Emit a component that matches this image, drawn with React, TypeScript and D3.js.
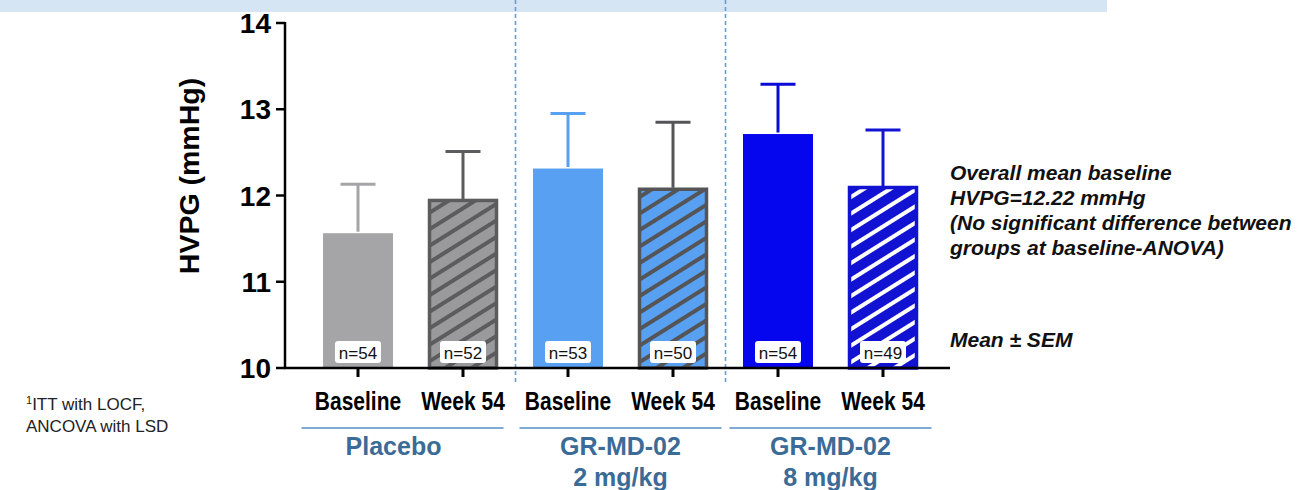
import React, { useEffect, useRef } from 'react';
import * as d3 from 'd3';

// bar values (HVPG, mmHg)
const categories = ['Baseline', 'Week 54', 'Baseline', 'Week 54', 'Baseline', 'Week 54'];
const means = [11.58, 11.96, 12.33, 12.09, 12.73, 12.11];
const sems = [0.55, 0.55, 0.62, 0.76, 0.56, 0.65];
const nValues = [54, 52, 53, 50, 54, 49];
const groupNames = [['Placebo'], ['GR-MD-02', '2 mg/kg'], ['GR-MD-02', '8 mg/kg']];
const yTicks = [10, 11, 12, 13, 14];
const notes = [
  'Overall mean baseline',
  'HVPG=12.22 mmHg',
  '(No significant difference between',
  'groups at baseline-ANOVA)',
];
const footnote = ['ITT with LOCF,', 'ANCOVA with LSD'];

// fill, stripe, outline per bar
const barStyles = [
  { fill: '#a5a5a7', stripe: null, stroke: null, err: '#a5a5a7' },
  { fill: '#9a9a9c', stripe: '#5c5c5e', stroke: '#5c5c5e', err: '#5c5c5e' },
  { fill: '#58a0f2', stripe: null, stroke: null, err: '#58a0f2' },
  { fill: '#58a0f2', stripe: '#555557', stroke: '#555557', err: '#555557' },
  { fill: '#0505ee', stripe: null, stroke: null, err: '#0a0ad8' },
  { fill: '#1212d2', stripe: '#ffffff', stroke: '#1212d2', err: '#1212d2' },
];

const App = () => {
  const ref = useRef<SVGSVGElement | null>(null);

  useEffect(() => {
    const svg = d3.select(ref.current);
    svg.selectAll('*').remove();
    const width = 1301;
    const height = 490;
    svg.attr('width', width).attr('height', height);

    const x = d3.scaleBand<number>()
      .domain(d3.range(categories.length))
      .range([305.5, 935.5])
      .paddingInner(1 / 3)
      .paddingOuter(1 / 6);
    const y = d3.scaleLinear().domain([10, 14]).range([368, 23]);
    const bw = x.bandwidth();
    const gap = (x.step() - bw) / 2;
    const axisX = 285;
    const font = 'Liberation Sans, Arial, sans-serif';

    // top banner
    svg.append('rect').attr('x', 0).attr('y', 0).attr('width', 1107).attr('height', 12)
      .attr('fill', '#d5e5f3');

    // patterns
    const defs = svg.append('defs');
    barStyles.forEach((s, i) => {
      if (!s.stripe) return;
      const p = defs.append('pattern')
        .attr('id', `hatch${i}`)
        .attr('patternUnits', 'userSpaceOnUse')
        .attr('width', 14).attr('height', 14)
        .attr('patternTransform', 'rotate(-32)');
      p.append('rect').attr('width', 14).attr('height', 14).attr('fill', s.fill);
      p.append('rect').attr('y', 0).attr('width', 14).attr('height', 4).attr('fill', s.stripe);
    });

    // group separators
    [2, 4].forEach(i => {
      const sx = x(i)! - gap;
      svg.append('line')
        .attr('x1', sx).attr('x2', sx).attr('y1', 0).attr('y2', 384)
        .attr('stroke', '#6a9ccc').attr('stroke-width', 1.6)
        .attr('stroke-dasharray', '4,3');
    });

    const g = svg.append('g');

    // error bars (upper only)
    means.forEach((m, i) => {
      const cx = x(i)! + bw / 2;
      const s = barStyles[i];
      g.append('line')
        .attr('x1', cx).attr('x2', cx).attr('y1', y(m)).attr('y2', y(m + sems[i]))
        .attr('stroke', s.err).attr('stroke-width', 3);
      g.append('line')
        .attr('x1', cx - 17.5).attr('x2', cx + 17.5).attr('y1', y(m + sems[i])).attr('y2', y(m + sems[i]))
        .attr('stroke', s.err).attr('stroke-width', 3);
    });

    // bars
    g.selectAll('.bar')
      .data(means)
      .enter().append('rect')
      .attr('class', 'bar')
      .attr('x', (d, i) => x(i)! + (barStyles[i].stroke ? 1.5 : 0))
      .attr('y', d => y(d) + 1.5)
      .attr('width', (d, i) => bw - (barStyles[i].stroke ? 3 : 0))
      .attr('height', d => y(10) - y(d) - 1.5)
      .attr('fill', (d, i) => (barStyles[i].stripe ? `url(#hatch${i})` : barStyles[i].fill))
      .attr('stroke', (d, i) => barStyles[i].stroke || 'none')
      .attr('stroke-width', 3.5);

    // n labels
    nValues.forEach((n, i) => {
      const cx = x(i)! + bw / 2;
      g.append('rect')
        .attr('x', cx - 23).attr('y', 341).attr('width', 46).attr('height', 22)
        .attr('rx', 3).attr('fill', '#ffffff');
      g.append('text')
        .attr('x', cx).attr('y', 358.5)
        .attr('text-anchor', 'middle')
        .attr('font-family', font).attr('font-size', 17).attr('fill', '#111')
        .text(`n=${n}`);
    });

    // y axis
    g.append('line').attr('x1', axisX).attr('x2', axisX).attr('y1', y(14) - 1).attr('y2', y(10))
      .attr('stroke', '#000').attr('stroke-width', 2.5);
    yTicks.forEach(t => {
      g.append('line').attr('x1', axisX - 9).attr('x2', axisX).attr('y1', y(t)).attr('y2', y(t))
        .attr('stroke', '#000').attr('stroke-width', 2.5);
      g.append('text')
        .attr('x', axisX - 14).attr('y', y(t) + 10)
        .attr('text-anchor', 'end')
        .attr('font-family', font).attr('font-weight', 'bold').attr('font-size', 28)
        .attr('fill', '#000')
        .text(t);
    });
    g.append('text')
      .attr('transform', `translate(199,176) rotate(-90)`)
      .attr('text-anchor', 'middle')
      .attr('font-family', font).attr('font-weight', 'bold').attr('font-size', 28.5)
      .attr('fill', '#000')
      .text('HVPG (mmHg)');

    // x axis
    g.append('line').attr('x1', axisX - 1).attr('x2', 950).attr('y1', y(10)).attr('y2', y(10))
      .attr('stroke', '#000').attr('stroke-width', 2.5);
    categories.forEach((c, i) => {
      const cx = x(i)! + bw / 2;
      g.append('line').attr('x1', cx).attr('x2', cx).attr('y1', y(10)).attr('y2', y(10) + 9)
        .attr('stroke', '#000').attr('stroke-width', 3);
      // condensed bold label
      g.append('text')
        .attr('transform', `translate(${cx},410) scale(0.84,1)`)
        .attr('text-anchor', 'middle')
        .attr('font-family', font)
        .attr('font-weight', 'bold').attr('font-size', 25)
        .attr('fill', '#000')
        .text(c);
    });

    // group underlines and names
    groupNames.forEach((lines, k) => {
      const x0 = x(2 * k)! - gap;
      const x1 = x(2 * k + 1)! + bw + gap;
      const lx0 = k === 0 ? x0 - 4 : x0 + 4;
      const lx1 = k === 0 ? x1 - 12 : x1 - 4;
      g.append('line')
        .attr('x1', lx0).attr('x2', lx1).attr('y1', 428).attr('y2', 428)
        .attr('stroke', '#7eaad4').attr('stroke-width', 2);
      const tx = k === 0 ? (lx0 + lx1) / 2 - 9 : (x0 + x1) / 2;
      lines.forEach((t, j) => {
        g.append('text')
          .attr('x', tx).attr('y', 455 + j * 31)
          .attr('text-anchor', 'middle')
          .attr('font-family', font).attr('font-weight', 'bold').attr('font-size', 25)
          .attr('fill', '#3b6b97')
          .text(t);
      });
    });

    // right-side notes
    notes.forEach((t, i) => {
      svg.append('text')
        .attr('x', 950).attr('y', 180 + i * 25)
        .attr('font-family', font).attr('font-weight', 'bold').attr('font-style', 'italic')
        .attr('font-size', 21).attr('fill', '#111')
        .text(t);
    });
    svg.append('text')
      .attr('x', 950).attr('y', 347)
      .attr('font-family', font).attr('font-weight', 'bold').attr('font-style', 'italic')
      .attr('font-size', 21).attr('fill', '#111')
      .text('Mean ± SEM');

    // footnote
    footnote.forEach((t, i) => {
      const txt = svg.append('text')
        .attr('x', 26).attr('y', 410 + i * 22)
        .attr('font-family', font).attr('font-size', 17).attr('fill', '#222');
      if (i === 0) {
        txt.append('tspan').attr('font-size', 11).attr('dy', -6).text('1');
        txt.append('tspan').attr('dy', 6).text(t);
      } else {
        txt.text(t);
      }
    });
  }, []);

  return (
    <svg ref={ref} style={{ position: 'absolute', left: 0, top: 0, background: '#fff' }}></svg>
  );
};

export default App;
